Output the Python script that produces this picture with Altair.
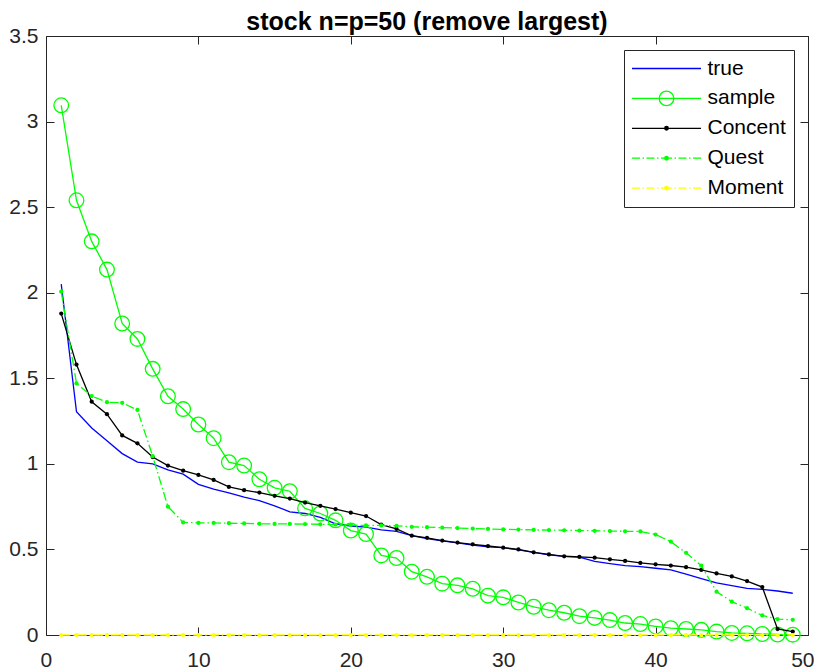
import altair as alt
import pandas as pd

x_index = list(range(1, 50))

true_vals = [2.05, 1.305, 1.21, 1.135, 1.06, 1.01, 1.0, 0.965, 0.94, 0.88,
             0.852, 0.83, 0.805, 0.785, 0.755, 0.72, 0.71, 0.687, 0.65, 0.637,
             0.63, 0.614, 0.606, 0.58, 0.563, 0.55, 0.538, 0.525, 0.515, 0.51,
             0.497, 0.483, 0.468, 0.46, 0.455, 0.43, 0.417, 0.405, 0.40, 0.39,
             0.38, 0.355, 0.33, 0.305, 0.288, 0.272, 0.267, 0.257, 0.244]

sample_vals = [3.095, 2.54, 2.30, 2.135, 1.82, 1.73, 1.555, 1.395, 1.32, 1.23,
               1.15, 1.01, 0.99, 0.91, 0.86, 0.84, 0.74, 0.71, 0.67, 0.61,
               0.59, 0.465, 0.45, 0.37, 0.34, 0.30, 0.29, 0.27, 0.23, 0.22,
               0.19, 0.165, 0.145, 0.13, 0.11, 0.10, 0.087, 0.07, 0.064, 0.05,
               0.04, 0.035, 0.03, 0.02, 0.012, 0.01, 0.006, 0.003, 0.002]

concent_vals = [1.878, 1.58, 1.363, 1.29, 1.166, 1.12, 1.04, 0.99, 0.96, 0.935,
                0.906, 0.865, 0.846, 0.832, 0.813, 0.797, 0.774, 0.755, 0.736, 0.715,
                0.695, 0.645, 0.62, 0.58, 0.568, 0.552, 0.54, 0.53, 0.52, 0.51,
                0.50, 0.483, 0.471, 0.46, 0.456, 0.452, 0.442, 0.433, 0.421, 0.413,
                0.406, 0.396, 0.38, 0.36, 0.342, 0.315, 0.28, 0.035, 0.02]

quest_vals = [2.006, 1.47, 1.396, 1.36, 1.357, 1.315, 1.045, 0.75, 0.658, 0.655,
              0.655, 0.653, 0.652, 0.65, 0.649, 0.649, 0.648, 0.647, 0.645, 0.643,
              0.64, 0.64, 0.638, 0.632, 0.63, 0.627, 0.625, 0.622, 0.62, 0.617,
              0.616, 0.614, 0.613, 0.612, 0.61, 0.609, 0.607, 0.606, 0.605, 0.587,
              0.545, 0.48, 0.405, 0.253, 0.195, 0.157, 0.114, 0.093, 0.089]

moment_vals = [0.0, 0.0, 0.0, 0.0, 0.0, 0.0, 0.0, 0.0, 0.0, 0.0,
               0.0, 0.0, 0.0, 0.0, 0.0, 0.0, 0.0, 0.0, 0.0, 0.0,
               0.0, 0.0, 0.0, 0.0, 0.0, 0.0, 0.0, 0.0, 0.0, 0.0,
               0.0, 0.0, 0.0, 0.0, 0.0, 0.0, 0.0, 0.0, 0.0, 0.0,
               0.0, 0.0, 0.0, 0.0, 0.0, 0.0, 0.0, 0.0, 0.0]

series_names = ["true", "sample", "Concent", "Quest", "Moment"]
series_colors = ["#0000ff", "#00ff00", "#000000", "#00ff00", "#ffff00"]
x_ticks = [0, 10, 20, 30, 40, 50]
y_ticks = [0, 0.5, 1, 1.5, 2, 2.5, 3, 3.5]
title_text = "stock n=p=50 (remove largest)"

rows = []
for name, vals in zip(series_names, [true_vals, sample_vals, concent_vals, quest_vals, moment_vals]):
    for xi, v in zip(x_index, vals):
        rows.append({"idx": xi, "value": v, "series": name})
df = pd.DataFrame(rows)

# legend symbol paths (line + marker)
dashdot = ("M-6.9,0H-5.3M-4.8,0H-4.5M-4.0,0H-2.4M-1.9,0H-1.6M-1.1,0H1.1"
           "M1.6,0H1.9M2.4,0H4.0M4.5,0H4.8M5.3,0H6.9")
dot = ("M0.36,0A0.36,0.36,0,1,1,-0.36,0A0.36,0.36,0,1,1,0.36,0"
       "M0.12,0A0.12,0.12,0,1,1,-0.12,0A0.12,0.12,0,1,1,0.12,0")
legend_paths = [
    "M-6.9,0H6.9",
    "M-6.9,0H6.9M1.45,0A1.45,1.45,0,1,1,-1.45,0A1.45,1.45,0,1,1,1.45,0",
    "M-6.9,0H6.9" + dot,
    dashdot + dot,
    dashdot + dot,
]

xs = alt.Scale(domain=[0, 50], nice=False, zero=False)
ys = alt.Scale(domain=[0, 3.5], nice=False, zero=False)

axis_common = dict(tickSize=8, offset=-8, domain=False, grid=False, title=None,
                   tickColor="#262626", tickWidth=1)
ax_bottom = alt.Axis(orient="bottom", values=x_ticks, format="d", labelPadding=14,
                     labelFlush=True, labelFlushOffset=6, **axis_common)
ax_left = alt.Axis(orient="left", values=y_ticks, format="~g", labelPadding=8, **axis_common)
ax_top = alt.Axis(orient="top", values=x_ticks, labels=False, **axis_common)
ax_right = alt.Axis(orient="right", values=y_ticks, labels=False, **axis_common)

DASH = [9, 3, 1.5, 3]


def enc(xaxis=None, yaxis=None):
    return dict(x=alt.X("idx:Q", scale=xs, axis=xaxis),
                y=alt.Y("value:Q", scale=ys, axis=yaxis))


def sel(name):
    return alt.Chart().transform_filter(alt.datum.series == name)


layers = []
layers.append(sel("true").mark_line(color="#0000ff", strokeWidth=1.3)
              .encode(**enc(ax_bottom, ax_left)))
layers.append(sel("sample").mark_line(color="#00ff00", strokeWidth=1.3).encode(**enc()))
layers.append(sel("sample").mark_point(shape="circle", size=216, filled=False,
                                        color="#00ff00", strokeWidth=1.3, opacity=1)
              .encode(**enc()))
layers.append(sel("Concent").mark_line(color="#000000", strokeWidth=1.3).encode(**enc()))
layers.append(sel("Concent").mark_point(shape="circle", size=18, filled=True,
                                         color="#000000", opacity=1).encode(**enc()))
layers.append(sel("Quest").mark_line(color="#00ff00", strokeWidth=1.3, strokeDash=DASH)
              .encode(**enc()))
layers.append(sel("Quest").mark_point(shape="circle", size=18, filled=True,
                                       color="#00ff00", opacity=1).encode(**enc()))
layers.append(sel("Moment").mark_line(color="#ffff00", strokeWidth=1.3, strokeDash=DASH)
              .encode(**enc()))
layers.append(sel("Moment").mark_point(shape="circle", size=18, filled=True,
                                        color="#ffff00", opacity=1)
              .encode(**enc(ax_top, ax_right)))

leg = alt.Legend(title=None, orient="none", legendX=578, legendY=14, padding=8,
                 rowPadding=7.9, symbolSize=100, symbolStrokeWidth=1.3,
                 symbolOffset=24, labelOffset=30.5, labelFont="Liberation Sans",
                 labelFontSize=21, labelColor="#000000", strokeColor="#262626",
                 fillColor="#ffffff", symbolOpacity=1, labelBaseline="middle")

layers.append(alt.Chart().mark_point(filled=False, opacity=0).encode(
    color=alt.Color("series:N", scale=alt.Scale(domain=series_names, range=series_colors),
                    legend=leg),
    shape=alt.Shape("series:N", scale=alt.Scale(domain=series_names, range=legend_paths),
                    legend=leg),
))

chart = alt.layer(*layers, data=df).properties(
    width=762,
    height=599,
    title=alt.TitleParams(title_text, fontSize=25, fontWeight="bold", font="Liberation Sans",
                          color="#000000", anchor="middle", offset=6, frame="group", dy=15.5),
    autosize=alt.AutoSizeParams(type="none"),
    padding={"left": 38, "top": 28, "right": 6, "bottom": 40},
).resolve_axis(x="independent", y="independent").configure_view(
    stroke="#262626", strokeWidth=1
).configure_axis(
    labelFont="Liberation Sans", labelFontSize=21, labelColor="#262626"
)

chart.save("out.html", embed_options={"renderer": "svg", "actions": False})
